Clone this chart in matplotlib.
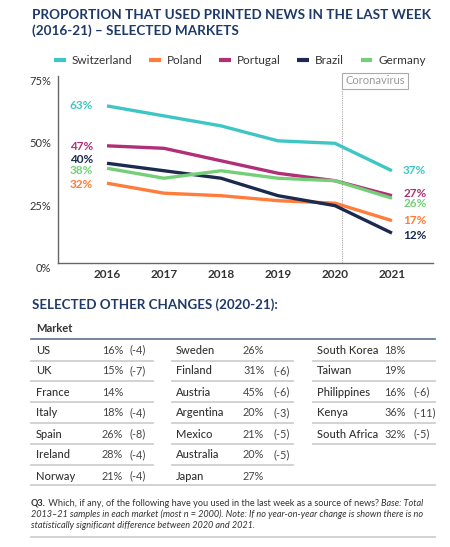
import matplotlib
matplotlib.use("Agg")
import matplotlib.pyplot as plt
from matplotlib.lines import Line2D

plt.rcParams['font.family'] = ['Lato', 'DejaVu Sans']

years = [2016, 2017, 2018, 2019, 2020, 2021]
switzerland = [63, 59, 55, 49, 48, 37]
poland = [32, 28, 27, 25, 24, 17]
portugal = [47, 46, 41, 36, 33, 27]
brazil = [40, 37, 34, 27, 23, 12]
germany = [38, 34, 37, 34, 33, 26]

series_names = ['Switzerland', 'Poland', 'Portugal', 'Brazil', 'Germany']
series_vals = [switzerland, poland, portugal, brazil, germany]
colors = ['#3ec6c4', '#ff7c3a', '#b02f76', '#1b2a4e', '#75cf78']
# label nudges in points (start, end)
start_dy = [0, -1.2, -0.7, 3, -1.3]
end_dy = [0, 0, 1.8, -1.5, -3.8]

col1_names = ['US', 'UK', 'France', 'Italy', 'Spain', 'Ireland', 'Norway']
col1_pct = [16, 15, 14, 18, 26, 28, 21]
col1_chg = [-4, -7, None, -4, -8, -4, -4]
col2_names = ['Sweden', 'Finland', 'Austria', 'Argentina', 'Mexico', 'Australia', 'Japan']
col2_pct = [26, 31, 45, 20, 21, 20, 27]
col2_chg = [None, -6, -6, -3, -5, -5, None]
col3_names = ['South Korea', 'Taiwan', 'Philippines', 'Kenya', 'South Africa']
col3_pct = [18, 19, 16, 36, 32]
col3_chg = [None, None, -6, -11, -5]

W, H = 450, 547
navy = '#1f3a68'
fig = plt.figure(figsize=(W / 100, H / 100), dpi=100)


def fx(px):
    return px / W


def fy(py):
    return 1 - py / H


# title
fig.text(fx(32), fy(15), 'PROPORTION THAT USED PRINTED NEWS IN THE LAST WEEK',
         fontsize=9.7, fontweight='bold', color=navy, va='center')
fig.text(fx(32), fy(31), '(2016-21) \u2013 SELECTED MARKETS',
         fontsize=9.7, fontweight='bold', color=navy, va='center')

ax = fig.add_axes([fx(58), fy(263), fx(433) - fx(58), fy(76) - fy(263)])
for name, vals, c, d0, d1 in zip(series_names, series_vals, colors, start_dy, end_dy):
    ax.plot(years, vals, color=c, lw=2.4, label=name, solid_capstyle='butt')
    ax.annotate(f'{vals[0]}%', (years[0], vals[0]), xytext=(-10, d0),
                textcoords='offset points', ha='right', va='center',
                color=c, fontsize=8.5, fontweight='bold')
    ax.annotate(f'{vals[-1]}%', (years[-1], vals[-1]), xytext=(8, d1),
                textcoords='offset points', ha='left', va='center',
                color=c, fontsize=8.5, fontweight='bold')

ax.set_xlim(2015.14, 2021.72)
ax.set_ylim(0, 75)
ax.set_yticks([0, 25, 50, 75])
ax.set_yticklabels(['0%', '25%', '50%', '75%'])
ax.set_xticks(years)
ax.tick_params(axis='both', length=0, colors='#333333')
ax.tick_params(axis='y', pad=5, labelsize=8)
ax.tick_params(axis='x', pad=4, labelsize=8.5)
for lab in ax.get_xticklabels():
    lab.set_fontweight('bold')
for lab in ax.get_yticklabels():
    lab.set_verticalalignment('top')
for s in ['top', 'right']:
    ax.spines[s].set_visible(False)
for s in ['left', 'bottom']:
    ax.spines[s].set_color('#666666')
    ax.spines[s].set_linewidth(1)

ax.axvline(2020.12, color='#aaaaaa', lw=0.8, ls=(0, (1, 1)), zorder=0)
ax.text(2020.18, 73, 'Coronavirus', color='#999999', fontsize=8, ha='left', va='center',
        bbox=dict(boxstyle='square,pad=0.25', fc='white', ec='#aaaaaa', lw=0.8))

fig.legend(loc='center', bbox_to_anchor=(fx(240), fy(61)), ncol=5, frameon=False,
           handlelength=1.0, handletextpad=0.5, columnspacing=1.4, fontsize=8.5,
           labelcolor='#333333')
for h in fig.legends[0].legend_handles:
    h.set_linewidth(3)

# table section
fig.text(fx(32), fy(305), 'SELECTED OTHER CHANGES (2020-21):', fontsize=9.6,
         fontweight='bold', color=navy, va='center')
fig.text(fx(36), fy(329), 'Market', fontsize=8, fontweight='bold', color='#333333', va='center')
fig.add_artist(Line2D([fx(31), fx(435)], [fy(339), fy(339)], color='#5c6f8c', lw=1.2))

row_y = [350, 371, 392, 413, 434, 455, 476]
line_y = [360.5, 381, 402, 423, 444, 465]
columns = [
    (col1_names, col1_pct, col1_chg, 31, 153, 36, 102, 130),
    (col2_names, col2_pct, col2_chg, 172, 293, 176, 243, 274),
    (col3_names, col3_pct, col3_chg, 313, 435, 317, 384, 414),
]
for names, pcts, chgs, x0, x1, xn, xp, xc in columns:
    for i, (n, p, c) in enumerate(zip(names, pcts, chgs)):
        y = row_y[i]
        fig.text(fx(xn), fy(y), n, fontsize=8, color='#333333', va='center',
                 fontweight='medium')
        fig.text(fx(xp), fy(y), f'{p}%', fontsize=7.8, color='#444444', va='center')
        if c is not None:
            fig.text(fx(xc), fy(y), f'({c})', fontsize=7.8, color='#444444', va='center')
        if i < len(line_y) and not (i == len(names) - 1 and len(names) == 7):
            fig.add_artist(Line2D([fx(x0), fx(x1)], [fy(line_y[i]), fy(line_y[i])],
                                  color='#cfcfcf', lw=1.3))
fig.add_artist(Line2D([fx(31), fx(435)], [fy(485), fy(485)], color='#cfcfcf', lw=1.3))

# footnote with mixed styles
fig.canvas.draw()
renderer = fig.canvas.get_renderer()


def write_parts(parts, x_px, y_px):
    x = fx(x_px)
    for txt, style in parts:
        kw = dict(fontsize=6.6, color='#333333', va='center')
        if style == 'b':
            kw['fontweight'] = 'bold'
        elif style == 'i':
            kw['fontstyle'] = 'italic'
        t = fig.text(x, fy(y_px), txt, **kw)
        bb = t.get_window_extent(renderer=renderer)
        x += bb.width / fig.bbox.width


write_parts([('Q3.', 'b'),
             (' Which, if any, of the following have you used in the last week as a source of news? ', 'n'),
             ('Base: Total', 'i')], 31, 503)
write_parts([('2013\u201321 samples in each market (most n = 2000). Note: If no year-on-year change is shown there is no', 'i')], 31, 514)
write_parts([('statistically significant difference between 2020 and 2021.', 'i')], 31, 525)
fig.add_artist(Line2D([fx(31), fx(435)], [fy(537), fy(537)], color='#cfcfcf', lw=1.3))

fig.savefig('out.png', dpi=100)
